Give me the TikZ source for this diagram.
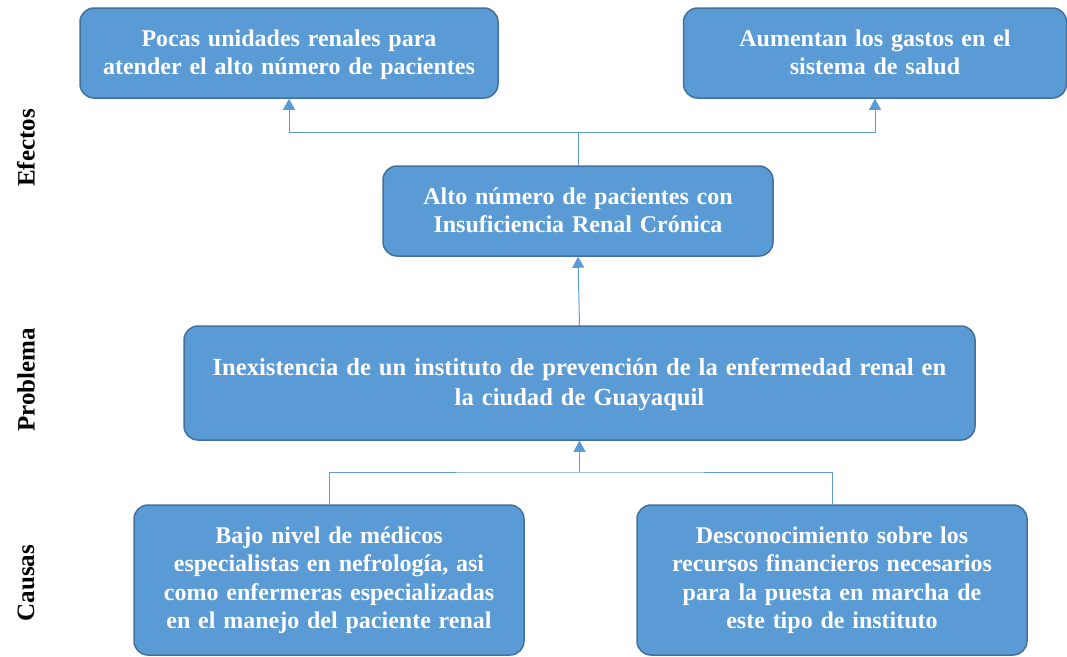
\documentclass[tikz,border=0pt]{standalone}
\usepackage{fontspec}
\setmainfont{Liberation Serif}
\newfontfamily\boxfam{Liberation Serif}[WordSpace=1.3]
\usetikzlibrary{arrows.meta}
\definecolor{boxblue}{HTML}{5B9BD5}
\definecolor{boxedge}{HTML}{41719C}
\newcommand\boxfont{\boxfam\bfseries\fontsize{24}{28.5}\selectfont}
\newcommand\probfont{\boxfam\bfseries\fontsize{24.6}{30}\selectfont}
\tikzset{
  box/.style={draw=boxedge, fill=boxblue, line width=1.5pt, rounded corners=14pt,
    text=white, align=center, inner sep=0pt, font=\boxfont},
  conn/.style={draw=boxblue, line width=1pt},
  tip/.style={-{Triangle[width=12pt,length=11pt]}},
  side/.style={rotate=90, font=\bfseries\fontsize{25}{28}\selectfont, text=black}
}
\begin{document}
\begin{tikzpicture}[x=1pt,y=-1pt]
\useasboundingbox (0,0) rectangle (1067,656);
\node[box, minimum width=418pt, minimum height=90pt, text depth=2pt] (tl) at (289,53)
  {Pocas unidades renales para\\atender el alto número de pacientes};
\node[box, minimum width=383pt, minimum height=90pt, text depth=2pt] (tr) at (875,53)
  {Aumentan los gastos en el\\sistema de salud};
\node[box, minimum width=390pt, minimum height=90pt, text depth=2pt] (mid) at (578,211)
  {Alto número de pacientes con\\Insuficiencia Renal Crónica};
\node[box, minimum width=791pt, minimum height=114pt, text depth=2pt, font=\probfont] (prob) at (579.5,383)
  {Inexistencia de un instituto de prevención de la enfermedad renal en\\la ciudad de Guayaquil};
\node[box, minimum width=390pt, minimum height=150pt] (bl) at (329,580)
  {Bajo nivel de médicos\\especialistas en nefrología, asi\\como enfermeras especializadas\\en el manejo del paciente renal};
\node[box, minimum width=390pt, minimum height=150pt] (br) at (832,580)
  {Desconocimiento sobre los\\recursos financieros necesarios\\para la puesta en marcha de\\este tipo de instituto};
\node[side] (lef) at (26,148) {Efectos};
\node[side] (lpr) at (26,380) {Problema};
\node[side] (lca) at (26,583) {Causas};
\coordinate (jt) at (578,132);
\coordinate (jb) at (579.5,472);
\draw[conn] (mid.north) -- (jt);
\draw[conn,tip] (jt) -| (tl.south);
\draw[conn,tip] (jt) -| (tr.south);
\draw[conn,tip] (prob.north) -- (mid.south);
\draw[conn] (bl.north) |- (jb) -| (br.north);
\draw[conn,tip] (jb) -- (prob.south);
\end{tikzpicture}
\end{document}
